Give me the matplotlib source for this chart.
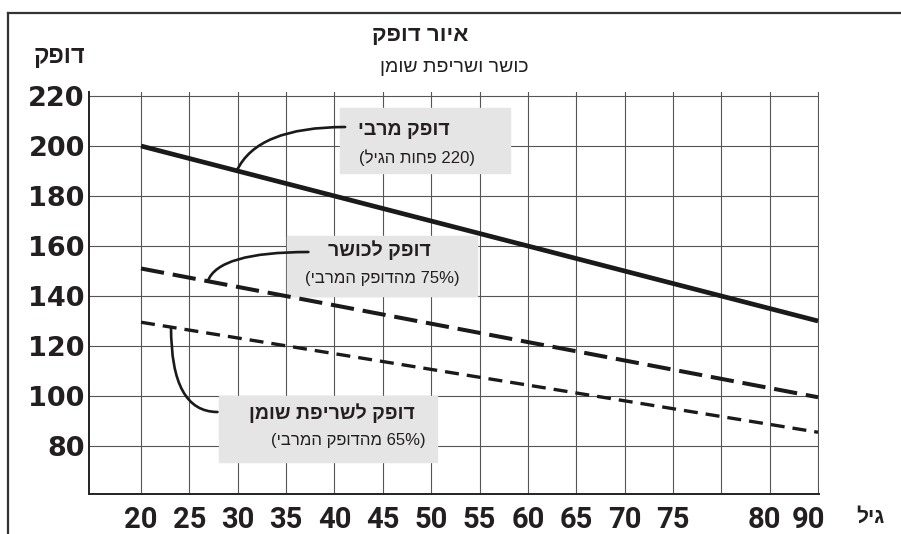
import re
import numpy as np
import matplotlib
matplotlib.use("Agg")
import matplotlib.pyplot as plt
from matplotlib.patches import Rectangle

# =====================================================
# DADOS
# =====================================================
gil = [20, 90]
dofek_maximali = [200, 130]
dofek_kosher = [151, 99.5]
dofek_shuman = [129.5, 85.5]

y_ticks = [80, 100, 120, 140, 160, 180, 200, 220]
x_tick_labels = ['20', '25', '30', '35', '40', '45', '50', '55', '60', '65',
                 '70', '75', '80', '90']
x_tick_pos = [20, 25, 30, 35, 40, 45, 50, 55, 60, 65, 70, 75, 84.5, 89]
grid_x = list(range(20, 95, 5))

HEB = ['Liberation Sans', 'DejaVu Sans']


def rtl(s):
    # matplotlib desenha da esquerda p/ direita: inverte para ordem visual
    v = s[::-1]
    v = re.sub(r'[0-9%]+', lambda m: m.group(0)[::-1], v)
    return v.translate(str.maketrans('()', ')('))


fig = plt.figure(figsize=(9.01, 5.34), dpi=100)
ax = fig.add_axes([89 / 901, 1 - 494 / 534, (819 - 89) / 901, (494 - 92) / 534])
ax.set_xlim(14.62, 90.1)
ax.set_ylim(60.8, 221.6)

# grade
for gx in grid_x:
    ax.axvline(gx, color='#555555', lw=0.8, zorder=1)
for gy in y_ticks:
    ax.axhline(gy, color='#555555', lw=0.8, zorder=1)

for s in ['top', 'right']:
    ax.spines[s].set_visible(False)
for s in ['left', 'bottom']:
    ax.spines[s].set_linewidth(1.4)
    ax.spines[s].set_color('#222222')

ax.set_yticks(y_ticks)
ax.set_yticklabels([str(v) for v in y_ticks], fontsize=19.5,
                   fontweight='bold', family='DejaVu Sans', color='#231f20')
ax.set_xticks(x_tick_pos)
ax.set_xticklabels(x_tick_labels, fontsize=21, fontweight='bold',
                   family=['Roboto', 'DejaVu Sans'], color='#231f20')
ax.tick_params(axis='y', length=0, pad=3)
ax.tick_params(axis='x', length=0, pad=9)

# linhas
ax.plot(gil, dofek_maximali, color='#1a1a1a', lw=3.4, solid_capstyle='butt', zorder=3)
ax.plot(gil, dofek_kosher, color='#1a1a1a', lw=2.9,
        linestyle=(0, (5.8, 2.2)), zorder=3)
ax.plot(gil, dofek_shuman, color='#1a1a1a', lw=2.4,
        linestyle=(0, (4.2, 2.4)), zorder=3)

# caixas cinzas
box_col = '#e5e5e6'
ax.add_patch(Rectangle((40.58, 189.2), 58.15 - 40.58, 215.2 - 189.2,
                       color=box_col, zorder=2))
ax.add_patch(Rectangle((35.10, 140.0), 54.74 - 35.10, 164.0 - 140.0,
                       color=box_col, zorder=2))
ax.add_patch(Rectangle((28.07, 73.6), 50.61 - 28.07, 100.0 - 73.6,
                       color=box_col, zorder=2))

ax.text(47.19, 206.4, rtl('דופק מרבי'), family=HEB, fontweight='bold',
        fontsize=14, ha='center', va='center', color='#231f20', zorder=4)
ax.text(48.54, 195.2, rtl('(220 פחות הגיל)'), family=HEB, fontsize=12,
        ha='center', va='center', color='#231f20', zorder=4)
ax.text(44.61, 158.4, rtl('דופק לכושר'), family=HEB, fontweight='bold',
        fontsize=14, ha='center', va='center', color='#231f20', zorder=4)
ax.text(44.92, 147.2, rtl('(75% מהדופק המרבי)'), family=HEB, fontsize=12,
        ha='center', va='center', color='#231f20', zorder=4)
ax.text(39.75, 93.2, rtl('דופק לשריפת שומן'), family=HEB, fontweight='bold',
        fontsize=14, ha='center', va='center', color='#231f20', zorder=4)
ax.text(41.40, 82.0, rtl('(65% מהדופק המרבי)'), family=HEB, fontsize=12,
        ha='center', va='center', color='#231f20', zorder=4)

# conectores
def conector(age, serie, xytext, angB):
    yv = np.interp(age, gil, serie)
    ax.annotate('', xy=(age, yv), xytext=xytext, zorder=4,
                arrowprops=dict(arrowstyle='-', color='#1a1a1a', lw=1.9,
                                shrinkA=0, shrinkB=0,
                                connectionstyle=f'angle3,angleA=0,angleB={angB}'))

conector(29.9, dofek_maximali, (41.1, 207.6), 65)
conector(26.9, dofek_kosher, (37.3, 157.6), 70)
conector(23.1, dofek_shuman, (27.9, 93.6), 90)

# textos da figura
fig.text(420 / 901, 1 - 36 / 534, rtl('איור דופק'), family=HEB, fontweight='bold',
         fontsize=16, ha='center', va='center', color='#231f20')
fig.text(454 / 901, 1 - 68 / 534, rtl('כושר ושריפת שומן'), family=HEB,
         fontsize=14, ha='center', va='center', color='#231f20')
fig.text(59 / 901, 1 - 57 / 534, rtl('דופק'), family=HEB, fontweight='bold',
         fontsize=17, ha='center', va='center', color='#231f20')
fig.text(870 / 901, 1 - 517 / 534, rtl('גיל'), family=HEB, fontweight='bold',
         fontsize=15, ha='center', va='center', color='#231f20')

# moldura externa
fig.add_artist(plt.Line2D([8 / 901, 8 / 901], [0, 1 - 13 / 534],
                          transform=fig.transFigure, color='#333333', lw=1.6))
fig.add_artist(plt.Line2D([8 / 901, 1], [1 - 13 / 534, 1 - 13 / 534],
                          transform=fig.transFigure, color='#333333', lw=1.6))

fig.savefig('out.png', dpi=100)
